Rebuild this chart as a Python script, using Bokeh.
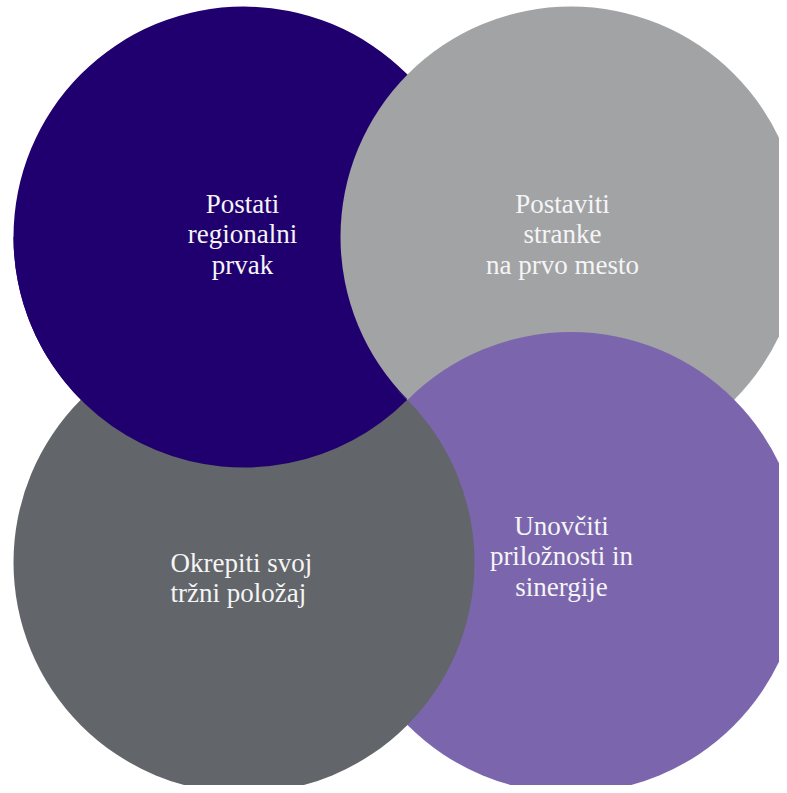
from bokeh.plotting import figure
from bokeh.models import Range1d, ColumnDataSource
from bokeh.embed import file_html
from bokeh.resources import INLINE
from bokeh.core.properties import value
import math

# ---- data ----
names = ["Postati regionalni prvak", "Postaviti stranke na prvo mesto",
         "Unovčiti priložnosti in sinergije", "Okrepiti svoj tržni položaj"]
label_lines = [
    ["Postati", "regionalni", "prvak"],
    ["Postaviti", "stranke", "na prvo mesto"],
    ["Unovčiti", "priložnosti in", "sinergije"],
    ["Okrepiti svoj", "tržni položaj"],
]
colors = ["#20006f", "#a2a3a5", "#7b66ad", "#626569"]

# ---- layout (image pixel coordinates) ----
cx = [243.5, 570.5, 570.5, 243.5]
cy = [236.5, 236.5, 562.0, 562.0]
radius = 230.5
text_x = [242, 562, 561, 170]
text_y0 = [203, 203, 525, 562]
text_align = ["center", "center", "center", "left"]
line_gap = 30.5
font = value("Liberation Serif")
font_size = "27px"

p = figure(width=779, height=785, output_backend="svg", toolbar_location=None,
           x_range=Range1d(0, 779), y_range=Range1d(785, 0),
           min_border=0, outline_line_color=None, background_fill_color="white",
           border_fill_color="white")
p.axis.visible = False
p.grid.visible = False

# draw order: dark purple, light gray, medium purple, dark gray
for i in range(4):
    p.circle(x=[cx[i]], y=[cy[i]], radius=radius, fill_color=colors[i],
             line_color=None)

# dark purple lies over dark gray: redraw lower-left sector of dark purple
p.wedge(x=[cx[0]], y=[cy[0]], radius=radius, start_angle=math.pi,
        end_angle=1.75 * math.pi, direction="anticlock",
        fill_color=colors[0], line_color=None)

# labels
xs, ys, ts, aligns = [], [], [], []
for i, lines in enumerate(label_lines):
    for j, t in enumerate(lines):
        xs.append(text_x[i])
        ys.append(text_y0[i] + j * line_gap)
        ts.append(t)
        aligns.append(text_align[i])
src = ColumnDataSource(dict(x=xs, y=ys, text=ts, align=aligns))
p.text(x="x", y="y", text="text", source=src, text_align="align",
       text_baseline="alphabetic", text_color="#f5f5f5",
       text_font=font, text_font_size=font_size)

open("out.html", "w").write(file_html(p, INLINE))
